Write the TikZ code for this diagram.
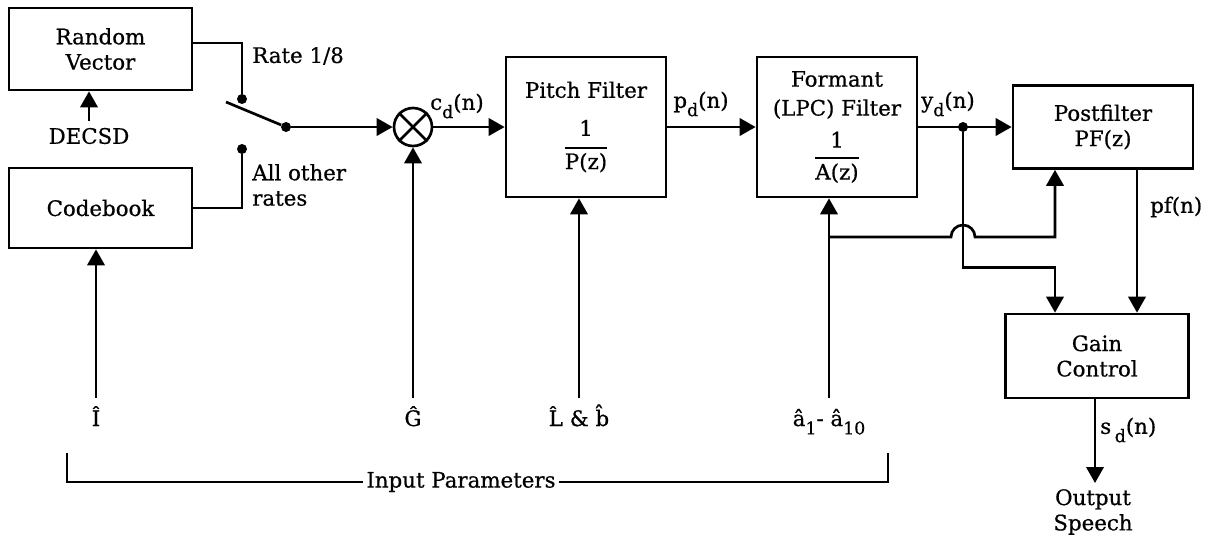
\documentclass[tikz,border=0pt]{standalone}
\usepackage{fontspec}
\setmainfont{DejaVu Serif}[FakeBold=0.6]
\usetikzlibrary{arrows.meta,positioning,calc}
\newdimen\px \px=0.75pt
\newcommand\lo[1]{\raisebox{-0.75ex}{\fontsize{13}{14}\selectfont #1}}
\newcommand\ovl[1]{\vbox{\hrule height 1.5pt\kern 3pt\hbox{#1}}}

\begin{document}
\begin{tikzpicture}[x=0.75pt,y=-0.75pt,
  font=\fontsize{16}{19}\selectfont,
  blk/.style={draw,line width=2pt,inner sep=0pt,align=center},
  sig/.style={line width=2pt,-{Triangle[length=12pt,width=13pt]}},
  wire/.style={line width=2pt},
  dot/.style={circle,fill,inner sep=0pt,minimum size=10\px},
  lbl/.style={inner sep=0pt}]

  \useasboundingbox (0,0) rectangle (1207,537);

  % blocks
  \node[blk,minimum width=183\px,minimum height=82\px] (rvec) at (100.5,49) {Random\\Vector};
  \node[blk,minimum width=183\px,minimum height=80\px] (cbook) at (100.5,208) {Codebook};
  \node[blk,minimum width=160\px,minimum height=140\px] (pitch) at (586,127)
    {Pitch Filter\\[9.5pt]1\\[6pt]\ovl{P(z)}};
  \node[blk,minimum width=160\px,minimum height=140\px] (formant) at (837,127)
    {Formant\\[2.7pt](LPC) Filter\\[5pt]1\\[5pt]\ovl{A(z)}};
  \node[blk,minimum width=180\px,minimum height=83\px] (post) at (1103,127) {Postfilter\\PF(z)};
  \node[blk,minimum width=183\px,minimum height=84\px] (gain) at (1097,356) {Gain\\Control};
  \node[draw,circle,line width=2pt,minimum size=38\px,inner sep=0pt] (mult) at (413,127) {};
  \draw[wire] (mult.north west) -- (mult.south east) (mult.north east) -- (mult.south west);

  % rate switch
  \node[dot] (ctop) at (242,99) {};
  \node[dot] (cbot) at (242,149) {};
  \node[dot] (swc) at (286,127) {};
  \coordinate (lv) at (226,102);
  \draw[wire] (rvec.east |- 0,43) -| (ctop);
  \draw[wire] (cbook.east) -| (cbot);
  \draw[wire] (lv) -- (swc);
  \node[lbl,anchor=west] (lrate) at (252,56) {Rate 1/8};
  \node[lbl,anchor=west,align=left] (lall) at (252,185) {All other\\rates};
  \node[lbl] (dec) at (89,136) {DECSD};
  \coordinate (decT) at (89,121);
  \draw[sig] (decT) -- (decT |- rvec.south);

  % main signal path
  \draw[sig] (swc) -- (mult);
  \draw[sig] (mult) -- (pitch);
  \draw[sig] (pitch) -- (formant);
  \node[dot] (yj) at (963,127) {};
  \draw[sig] (formant) -- (post);
  \node[lbl] (lcd) at (457,106) {c\lo{d}(n)};
  \node[lbl] (lpd) at (701,104) {p\lo{d}(n)};
  \node[lbl] (lyd) at (948,104) {y\lo{d}(n)};

  % gain control inputs
  \coordinate (gA) at ([shift={(-42,0)}]gain.north);
  \coordinate (gB) at ([shift={(40,0)}]gain.north);
  \coordinate (pA) at ([shift={(-48,0)}]post.south);
  \draw[sig] (yj) |- ([yshift=45\px]gA) -- (gA);
  \draw[sig] (gB |- post.south) -- (gB);
  \node[lbl,anchor=west] (lpf) at (1150,207) {pf(n)};
  \coordinate (fb) at (829,237);
  \draw[sig] (fb) -- (951,237) arc (180:360:12) -| (pA);

  % output
  \node[lbl,align=center] (outsp) at (1093,512) {Output\\Speech};
  \draw[sig] ([xshift=-2\px]gain.south) -- ([xshift=-2\px]gain.south |- 0,483);
  \node[lbl,anchor=west] (lsd) at (1100,430) {s\,\lo{d}(n)};

  % input parameters
  \foreach \nm/\x/\tgt/\txt in {I/96/cbook/Î, G/413/mult/Ĝ,
      L/579/pitch/{\^L \& \^b}, A/829/formant/{â\lo{1}- â\lo{10}}}{
    \node[lbl,anchor=base] (in\nm) at (\x,426) {\txt};
    \coordinate (s\nm) at (\x,398);
    \draw[sig] (s\nm) -- (s\nm |- \tgt.south);
  }
  \node[lbl,inner xsep=2pt] (inp) at (461,482) {Input Parameters};
  \coordinate (brL) at (67,453);
  \coordinate (brR) at (888,453);
  \draw[wire] (brL) |- (inp.west);
  \draw[wire] (inp.east) -| (brR);
\end{tikzpicture}
\end{document}
